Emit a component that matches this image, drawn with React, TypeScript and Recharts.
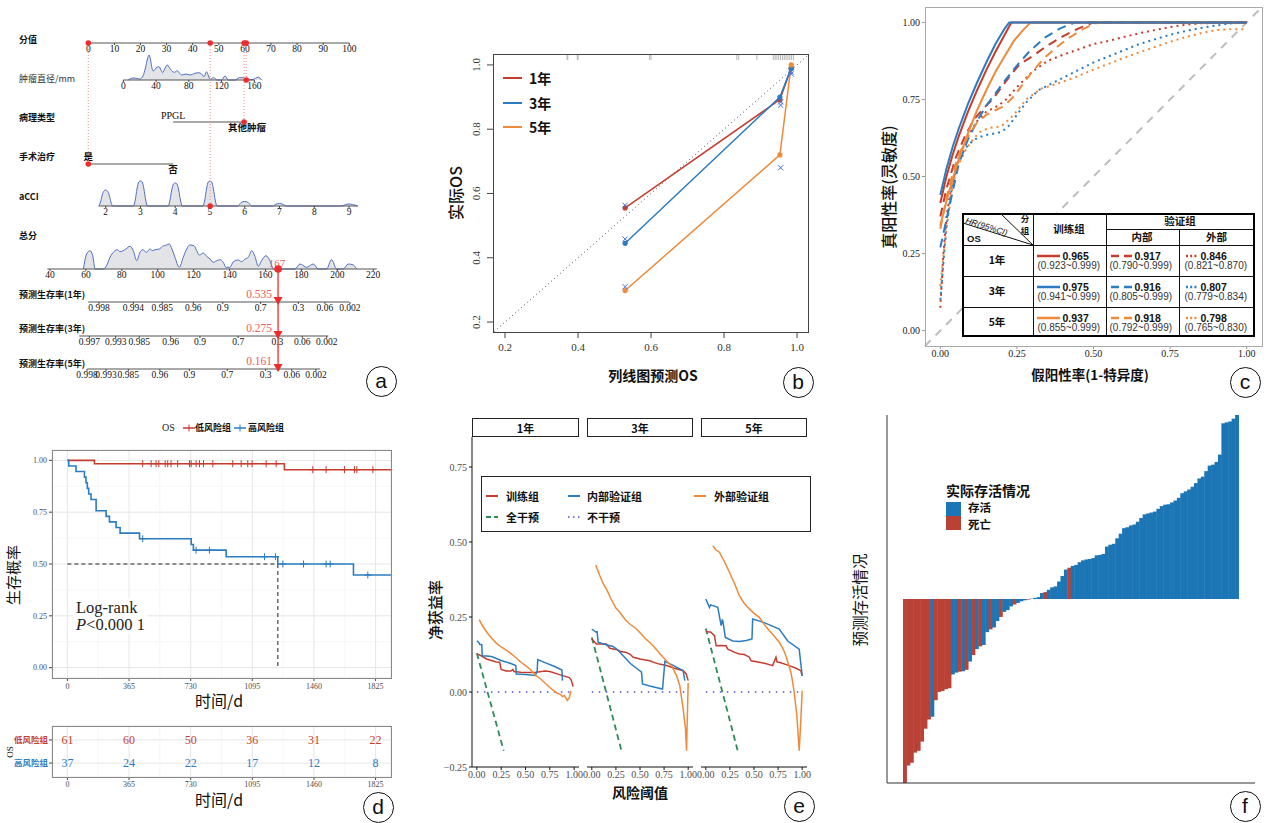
import React from "react";
import {
  Area,
  Bar,
  BarChart,
  CartesianGrid,
  ComposedChart,
  Line,
  Scatter,
  XAxis,
  YAxis,
} from "recharts";

const SERIF = '"Liberation Serif", "DejaVu Serif", serif';
const CJK = '"Noto Sans CJK SC", "Noto Sans", sans-serif';
const SANS = '"Liberation Sans", "Noto Sans CJK SC", sans-serif';

const RED = "#c43d2f";
const BLUE = "#2b7cc0";
const ORANGE = "#ee8a3a";
const GREEN = "#2e8b57";
const PURPLE = "#7d7ad8";
const NOMO_RED = "#ee2c2c";

// ---- a: nomogram ----
const pointTicks = [0, 10, 20, 30, 40, 50, 60, 70, 80, 90, 100];
const diameterTicks = [0, 40, 80, 120, 160];
const acciTicks = [2, 3, 4, 5, 6, 7, 8, 9];
const totalTicks = [40, 60, 80, 100, 120, 140, 160, 180, 200, 220];
// [value, relative density]
const diameterDensity = [
  [6, 0], [9, 1.5], [13, 2], [17, 1.5], [20, 1], [24, 4], [27, 12], [29.5, 21], [31.4, 25],
  [33.5, 19], [35, 12], [36.6, 9], [40, 12], [43.6, 13.3], [46, 10], [48, 7.3], [51, 12],
  [53.7, 15], [56.5, 12], [59, 9.3], [62.3, 7.7], [66, 9.3], [68.5, 7], [71.3, 5], [76.6, 6],
  [81.4, 5], [87.5, 6.7], [91.6, 7.3], [95.7, 6], [98.5, 3.3], [101.8, 8.3], [104, 4],
  [105.9, 0.7], [110, 2.3], [114.8, 0], [120.1, 0], [124.2, 4], [128.2, 0], [136.4, 0],
  [141.6, 2.3], [146.5, 2.3], [150.7, 0], [158.7, 0.7], [164.8, 2.7], [169, 0],
];
const acciDensity = [
  [1.8, 0], [1.85, 4], [1.9, 11], [1.95, 15], [2, 16], [2.05, 15], [2.1, 11], [2.15, 4], [2.2, 0],
  [2.8, 0], [2.85, 6], [2.9, 17], [2.95, 24], [3, 25], [3.05, 24], [3.1, 17], [3.15, 6], [3.2, 0],
  [3.8, 0], [3.85, 6], [3.9, 16], [3.95, 22], [4, 23], [4.05, 22], [4.1, 16], [4.15, 6], [4.2, 0],
  [4.8, 0], [4.85, 6], [4.9, 17], [4.95, 24], [5, 25], [5.05, 24], [5.1, 17], [5.15, 6], [5.2, 0],
  [5.8, 0], [5.85, 1.5], [5.9, 3.5], [6, 4.5], [6.1, 3.5], [6.15, 1.5], [6.2, 0],
  [6.8, 0], [6.9, 1.8], [7, 2.5], [7.1, 1.8], [7.2, 0],
  [8.8, 0], [8.9, 1.5], [9, 2], [9.1, 1.5], [9.25, 0],
];
const totalDensity = [
  [58.6, 0], [60.4, 15], [62.3, 18.3], [63.8, 13.3], [65.1, 0], [69.7, 0], [71.5, 3.3],
  [73.4, 11.7], [75.6, 17.3], [77.5, 19.3], [79, 17.3], [80.8, 18.3], [82.3, 20], [84.5, 22.7],
  [86.4, 18.3], [88.3, 8.3], [90.1, 16.7], [91.6, 19.3], [93.8, 16.7], [95.7, 20], [97.2, 18.3],
  [98.5, 19.3], [100.9, 20], [102.7, 22.7], [104.9, 24], [106.4, 25], [107.9, 20], [109.6, 11.7],
  [112, 1.7], [114.2, 11.7], [116.1, 20], [117.9, 24], [120.2, 23.3], [121.7, 18.3], [123.1, 14],
  [125.4, 16], [127.2, 12.7], [129.1, 10], [130.9, 6.7], [132.8, 8.3], [134.6, 9.3], [136.5, 6.7],
  [138, 1.7], [140.2, 1.7], [142.1, 7.3], [144.9, 9], [146.7, 7.3], [148.6, 10], [150.4, 11.7],
  [152.3, 18.3], [154.1, 12.7], [156, 2.7], [157.8, 8.3], [160.2, 13.3], [162.5, 8.3], [164.3, 0],
  [176.4, 0], [179.2, 5], [182.9, 1.7], [186.6, 5], [189.4, 0], [194, 0], [196.8, 9.3], [199.6, 0],
  [203.3, 0], [206.1, 5], [208.9, 4], [210.7, 0],
];
const pathologyLevels = ["PPGL", "其他肿瘤"];
const pathologyPoints = [32.5, 59.7];
const surgeryLevels = ["是", "否"];
const surgeryPoints = [0, 32.5];
const surv1Labels = ["0.998", "0.994", "0.985", "0.96", "0.9", "0.7", "0.3", "0.06", "0.002"];
const surv1At = [67.3, 86.4, 102.5, 119.8, 136.2, 157.3, 178.3, 193.1, 207.0];
const surv3Labels = ["0.997", "0.993", "0.985", "0.96", "0.9", "0.7", "0.3", "0.06", "0.002"];
const surv3At = [61.9, 76.6, 89.7, 107.2, 123.5, 144.8, 166.6, 180.5, 194.1];
const surv5Labels = ["0.998", "0.993", "0.985", "0.96", "0.9", "0.7", "0.3", "0.06", "0.002"];
const surv5At = [60.6, 71.2, 83.6, 101.2, 117.6, 138.7, 160.1, 174.6, 188.1];
const patientPoints = [60.5, 59.7, 0, 46.7]; // diameter, pathology, surgery, aCCI
const patientTotal = 167;
const patientSurvival = ["0.535", "0.275", "0.161"];

// ---- b: calibration ----
const calTicks = [0.2, 0.4, 0.6, 0.8, 1.0];
const calPredicted = [0.529, 0.953, 0.984];
const cal1Year = [0.555, 0.892, 0.99];
const cal3Year = [0.445, 0.9, 0.99];
const cal5Year = [0.298, 0.72, 1.0];
const calCorrected = [
  [0.529, 0.563], [0.529, 0.458], [0.529, 0.31], [0.955, 0.885], [0.955, 0.875],
  [0.955, 0.68], [0.984, 0.978], [0.984, 0.972],
];
const calRug = [0.37, 0.372, 0.398, 0.4, 0.596, 0.6, 0.835, 0.84, 0.89, 0.935, 0.94, 0.945,
  0.95, 0.955, 0.96, 0.965, 0.97, 0.975, 0.98, 0.985, 0.99];

// ---- c: ROC ----
const rateTicks = [0, 0.25, 0.5, 0.75, 1];
const rocTrain1 = [[0, 0.414], [0.02, 0.5], [0.04, 0.57], [0.06, 0.63], [0.09, 0.71], [0.12, 0.78], [0.15, 0.845], [0.18, 0.905], [0.21, 0.96], [0.232, 1], [1, 1]];
const rocTrain3 = [[0, 0.44], [0.02, 0.525], [0.04, 0.595], [0.06, 0.655], [0.09, 0.735], [0.12, 0.805], [0.15, 0.87], [0.18, 0.93], [0.21, 0.98], [0.225, 1], [1, 1]];
const rocTrain5 = [[0, 0.34], [0.02, 0.42], [0.04, 0.49], [0.06, 0.555], [0.09, 0.64], [0.12, 0.715], [0.15, 0.78], [0.18, 0.84], [0.21, 0.89], [0.24, 0.94], [0.27, 0.975], [0.295, 1], [1, 1]];
const rocInternal1 = [[0, 0.37], [0.02, 0.46], [0.05, 0.56], [0.08, 0.63], [0.11, 0.685], [0.14, 0.72], [0.17, 0.75], [0.2, 0.79], [0.23, 0.83], [0.26, 0.865], [0.3, 0.89], [0.35, 0.925], [0.4, 0.955], [0.45, 0.98], [0.5, 1], [1, 1]];
const rocInternal3 = [[0, 0.27], [0.02, 0.36], [0.04, 0.45], [0.06, 0.54], [0.09, 0.62], [0.12, 0.68], [0.15, 0.73], [0.18, 0.77], [0.21, 0.81], [0.25, 0.86], [0.29, 0.905], [0.34, 0.95], [0.39, 0.98], [0.44, 1], [1, 1]];
const rocInternal5 = [[0, 0.33], [0.02, 0.43], [0.04, 0.51], [0.06, 0.57], [0.09, 0.63], [0.12, 0.675], [0.15, 0.7], [0.18, 0.715], [0.21, 0.73], [0.24, 0.76], [0.27, 0.8], [0.3, 0.84], [0.34, 0.885], [0.38, 0.92], [0.42, 0.95], [0.46, 0.975], [0.5, 0.995], [0.52, 1], [1, 1]];
const rocExternal1 = [[0, 0.074], [0.01, 0.25], [0.02, 0.37], [0.035, 0.46], [0.06, 0.56], [0.09, 0.63], [0.12, 0.68], [0.15, 0.71], [0.18, 0.725], [0.21, 0.745], [0.25, 0.79], [0.3, 0.84], [0.35, 0.875], [0.4, 0.895], [0.45, 0.912], [0.5, 0.93], [0.55, 0.94], [0.6, 0.953], [0.65, 0.965], [0.7, 0.975], [0.75, 0.985], [0.8, 0.992], [0.85, 0.997], [1, 1]];
const rocExternal3 = [[0, 0.1], [0.01, 0.22], [0.02, 0.34], [0.04, 0.48], [0.06, 0.55], [0.08, 0.59], [0.1, 0.61], [0.12, 0.625], [0.15, 0.635], [0.18, 0.64], [0.2, 0.645], [0.22, 0.66], [0.25, 0.7], [0.28, 0.74], [0.32, 0.78], [0.36, 0.8], [0.4, 0.82], [0.45, 0.845], [0.5, 0.87], [0.55, 0.89], [0.6, 0.91], [0.65, 0.93], [0.7, 0.945], [0.75, 0.96], [0.8, 0.972], [0.85, 0.982], [0.9, 0.99], [0.95, 0.997], [1, 1]];
const rocExternal5 = [[0, 0.144], [0.01, 0.24], [0.02, 0.33], [0.04, 0.47], [0.06, 0.54], [0.085, 0.59], [0.11, 0.625], [0.13, 0.645], [0.16, 0.658], [0.2, 0.663], [0.24, 0.7], [0.28, 0.75], [0.33, 0.785], [0.39, 0.804], [0.45, 0.826], [0.5, 0.847], [0.55, 0.866], [0.6, 0.885], [0.65, 0.903], [0.7, 0.92], [0.75, 0.937], [0.8, 0.952], [0.85, 0.965], [0.9, 0.975], [0.95, 0.978], [1, 0.978]];
const aucTrain = ["0.965", "0.975", "0.937"];
const ciTrain = ["(0.923~0.999)", "(0.941~0.999)", "(0.855~0.999)"];
const aucInternal = ["0.917", "0.916", "0.918"];
const ciInternal = ["(0.790~0.999)", "(0.805~0.999)", "(0.792~0.999)"];
const aucExternal = ["0.846", "0.807", "0.798"];
const ciExternal = ["(0.821~0.870)", "(0.779~0.834)", "(0.765~0.830)"];
const yearLabels = ["1年", "3年", "5年"];

// ---- d: Kaplan-Meier ----
const dayTicks = [0, 365, 730, 1095, 1460, 1825];
const kmLowTimes = [0, 160, 1285, 1916];
const kmLowSurv = [1, 0.984, 0.955, 0.955];
const kmHighTimes = [0, 8, 51, 101, 110, 118, 126, 140, 170, 229, 249, 288, 312, 427, 733, 746, 940, 1246, 1694, 1916];
const kmHighSurv = [1, 0.973, 0.946, 0.919, 0.892, 0.865, 0.838, 0.811, 0.757, 0.73, 0.703, 0.676, 0.649, 0.622, 0.594, 0.567, 0.535, 0.5, 0.447, 0.447];
const censorLowTimes = [446, 496, 525, 541, 579, 594, 614, 653, 723, 733, 762, 782, 806, 861, 979, 1029, 1068, 1094, 1177, 1236, 1453, 1532, 1641, 1700, 1714, 1809];
const censorLowSurv = [0.984, 0.984, 0.984, 0.984, 0.984, 0.984, 0.984, 0.984, 0.984, 0.984, 0.984, 0.984, 0.984, 0.984, 0.984, 0.984, 0.984, 0.984, 0.984, 0.984, 0.955, 0.955, 0.955, 0.955, 0.955, 0.955];
const censorHighTimes = [446, 762, 841, 1167, 1232, 1276, 1398, 1532, 1556, 1779];
const censorHighSurv = [0.622, 0.567, 0.567, 0.535, 0.535, 0.5, 0.5, 0.5, 0.5, 0.447];
const medianTime = 1246;
const riskTimes = [0, 365, 730, 1095, 1460, 1825];
const riskLow = [61, 60, 50, 36, 31, 22];
const riskHigh = [37, 24, 22, 17, 12, 8];

// ---- e: decision curves ----
const thresholdTicks = [0, 0.25, 0.5, 0.75, 1];
const benefitTicks = [-0.25, 0, 0.25, 0.5, 0.75];
const dcaNone = [[0, 0], [1, 0]];
const dca1Train = [[0, 0.127], [0.05, 0.12], [0.1, 0.11], [0.15, 0.105], [0.2, 0.1], [0.235, 0.099], [0.25, 0.075], [0.3, 0.07], [0.35, 0.07], [0.37, 0.075], [0.38, 0.068], [0.45, 0.066], [0.55, 0.065], [0.61, 0.066], [0.7, 0.07], [0.75, 0.068], [0.85, 0.058], [0.95, 0.048], [0.97, 0.04], [0.99, 0.018]];
const dca1Internal = [[0, 0.171], [0.02, 0.165], [0.03, 0.158], [0.05, 0.158], [0.055, 0.121], [0.1, 0.12], [0.15, 0.118], [0.17, 0.116], [0.25, 0.105], [0.35, 0.095], [0.4, 0.088], [0.405, 0.06], [0.5, 0.058], [0.6, 0.055], [0.62, 0.07], [0.626, 0.108], [0.7, 0.098], [0.8, 0.085], [0.874, 0.073], [0.88, 0.038]];
const dca1External = [[0.024, 0.241], [0.05, 0.225], [0.1, 0.2], [0.15, 0.18], [0.2, 0.163], [0.25, 0.15], [0.3, 0.14], [0.35, 0.128], [0.4, 0.115], [0.45, 0.1], [0.5, 0.088], [0.55, 0.075], [0.6, 0.056], [0.65, 0.045], [0.7, 0.03], [0.75, 0.015], [0.8, 0.002], [0.83, -0.005], [0.86, -0.008], [0.88, -0.015], [0.9, -0.012], [0.93, -0.028], [0.95, -0.02], [0.966, 0.004]];
const dca1All = [[0, 0.129], [0.276, -0.196]];
const dca3Train = [[0, 0.177], [0.048, 0.16], [0.1, 0.16], [0.15, 0.16], [0.187, 0.146], [0.25, 0.142], [0.3, 0.135], [0.36, 0.132], [0.4, 0.125], [0.43, 0.116], [0.5, 0.11], [0.6, 0.104], [0.65, 0.098], [0.7, 0.093], [0.775, 0.088], [0.85, 0.08], [0.948, 0.071], [0.98, 0.06], [1.0, 0.038]];
const dca3Internal = [[0, 0.21], [0.02, 0.205], [0.04, 0.2], [0.055, 0.201], [0.066, 0.166], [0.12, 0.16], [0.22, 0.152], [0.27, 0.14], [0.325, 0.121], [0.4, 0.095], [0.46, 0.08], [0.516, 0.066], [0.526, 0.027], [0.6, 0.02], [0.734, 0.01], [0.758, 0.102], [0.85, 0.088], [0.948, 0.071], [0.965, 0.038]];
const dca3External = [[0.04, 0.423], [0.08, 0.39], [0.12, 0.36], [0.152, 0.343], [0.2, 0.31], [0.25, 0.28], [0.29, 0.266], [0.35, 0.24], [0.4, 0.225], [0.464, 0.21], [0.55, 0.18], [0.637, 0.154], [0.7, 0.13], [0.74, 0.116], [0.8, 0.095], [0.827, 0.088], [0.88, 0.054], [0.913, 0.021], [0.948, -0.057], [0.972, -0.123], [0.983, -0.196], [0.99, -0.1], [1.0, 0.03]];
const dca3All = [[0, 0.182], [0.308, -0.196]];
const dca5Train = [[0, 0.201], [0.05, 0.2], [0.09, 0.188], [0.107, 0.154], [0.15, 0.155], [0.21, 0.154], [0.228, 0.143], [0.3, 0.132], [0.348, 0.127], [0.4, 0.125], [0.452, 0.116], [0.469, 0.104], [0.555, 0.099], [0.62, 0.095], [0.693, 0.088], [0.728, 0.116], [0.74, 0.1], [0.762, 0.099], [0.866, 0.088], [0.93, 0.08], [0.986, 0.071], [1.0, 0.054]];
const dca5Internal = [[0, 0.31], [0.038, 0.282], [0.05, 0.29], [0.072, 0.288], [0.124, 0.282], [0.159, 0.221], [0.17, 0.24], [0.176, 0.238], [0.203, 0.182], [0.28, 0.17], [0.348, 0.168], [0.42, 0.172], [0.479, 0.177], [0.486, 0.243], [0.6, 0.232], [0.762, 0.21], [0.85, 0.17], [0.969, 0.143], [1.0, 0.054]];
const dca5External = [[0.072, 0.488], [0.1, 0.475], [0.141, 0.466], [0.2, 0.43], [0.245, 0.399], [0.3, 0.36], [0.348, 0.321], [0.4, 0.295], [0.452, 0.277], [0.5, 0.262], [0.555, 0.249], [0.6, 0.228], [0.659, 0.204], [0.7, 0.19], [0.762, 0.166], [0.8, 0.145], [0.831, 0.121], [0.86, 0.09], [0.883, 0.066], [0.9, 0.035], [0.917, -0.001], [0.945, -0.079], [0.969, -0.196], [0.985, -0.1], [1.0, 0.004]];
const dca5All = [[0, 0.212], [0.331, -0.196]];

// ---- f: waterfall of predicted score, 98 patients ----
const waterfallScores = [
  -2.0, -1.81, -1.78, -1.67, -1.65, -1.55, -1.41, -1.31, -1.28, -1.1,
  -1.01, -1.0, -0.98, -0.97, -0.82, -0.8, -0.79, -0.785, -0.77, -0.68,
  -0.61, -0.545, -0.515, -0.5, -0.36, -0.33, -0.31, -0.24, -0.195, -0.14,
  -0.12, -0.08, -0.06, -0.043, -0.025, -0.014, -0.007, 0.004, 0.011, 0.02,
  0.065, 0.075, 0.1, 0.127, 0.137, 0.19, 0.25, 0.32, 0.34, 0.36,
  0.37, 0.4, 0.42, 0.43, 0.435, 0.445, 0.475, 0.48, 0.49, 0.57,
  0.59, 0.6, 0.66, 0.71, 0.77, 0.78, 0.8, 0.81, 0.84, 0.88,
  0.92, 0.93, 0.94, 0.95, 0.98, 1.01, 1.025, 1.03, 1.05, 1.07,
  1.1, 1.15, 1.17, 1.19, 1.22, 1.26, 1.31, 1.33, 1.39, 1.45,
  1.46, 1.49, 1.57, 1.91, 1.92, 1.93, 1.96, 2.0,
];
const waterfallDead = [
  1, 1, 1, 1, 1, 1, 1, 1, 0, 1,
  1, 1, 1, 1, 0, 0, 1, 0, 1, 0,
  1, 0, 1, 0, 0, 1, 0, 0, 1, 0,
  0, 0, 1, 0, 0, 0, 1, 0, 0, 0,
  0, 1, 0, 0, 0, 0, 0, 0, 1, 0,
  0, 0, 0, 0, 0, 0, 0, 0, 0, 0,
  0, 0, 0, 0, 0, 0, 0, 0, 0, 0,
  0, 0, 0, 0, 0, 0, 0, 0, 0, 0,
  0, 0, 0, 0, 0, 0, 0, 0, 0, 0,
  0, 0, 0, 0, 0, 0, 0, 0,
];

const xy = (rows: number[][]) => rows.map(([x, y]) => ({ x, y }));
const pairs = (xs: number[], ys: number[]) => xs.map((x, i) => ({ x, y: ys[i] }));

function Txt({ x, y, children, size = 12, weight = 400, color = "#111", family = CJK, anchor = "start", rotate = 0, italic = false }: any) {
  const tx = anchor === "middle" ? "-50%" : anchor === "end" ? "-100%" : "0";
  return (
    <div
      style={{
        position: "absolute",
        left: x,
        top: y,
        transform: `translate(${tx},-50%)${rotate ? ` rotate(${rotate}deg)` : ""}`,
        fontSize: size,
        fontWeight: weight,
        fontStyle: italic ? "italic" : "normal",
        color,
        fontFamily: family,
        whiteSpace: "nowrap",
        lineHeight: 1.15,
      }}
    >
      {children}
    </div>
  );
}

function Tag({ x, y, letter }: any) {
  return (
    <div
      style={{
        position: "absolute", left: x - 15.5, top: y - 15.5, width: 31, height: 31,
        border: "1.5px solid #111", borderRadius: "50%", boxSizing: "border-box",
        display: "flex", alignItems: "center", justifyContent: "center",
        fontFamily: SANS, fontSize: 21, lineHeight: 1, color: "#111", paddingBottom: 2,
      }}
    >
      {letter}
    </div>
  );
}

function Swatch({ x, y, w, color, dash, width = 2, plus = false }: any) {
  return (
    <svg style={{ position: "absolute", left: x, top: y - 5, overflow: "visible" }} width={w} height={10}>
      <line x1={0} x2={w} y1={5} y2={5} stroke={color} strokeWidth={width} strokeDasharray={dash} />
      {plus ? <path d={`M${w / 2},1.5v7`} stroke={color} strokeWidth={1} /> : null}
    </svg>
  );
}

function Box({ x, y, w, h, color = "#888", width = 1 }: any) {
  return (
    <div style={{ position: "absolute", left: x, top: y, width: w, height: h, border: `${width}px solid ${color}`, boxSizing: "border-box", pointerEvents: "none" }} />
  );
}

// ---------------- panel a ----------------
const PTS_DOMAIN = [-33.83, 119.43];
const DIAM_DOMAIN = [-150.6, 337.9];
const ACCI_DOMAIN = [-1.041, 10.467];
const TOT_DOMAIN = [12.16, 234.9];
const ROW_Y = { points: 43, diameter: 80, pathology: 122, surgery: 164, acci: 206, total: 269, s1: 302, s3: 336, s5: 369 };

function NomoRow({ axisY, plotH, domain, ticks, tickText, span, density, levels, levelStyle }: any) {
  const h = plotH + 14;
  return (
    <div style={{ position: "absolute", left: 0, top: axisY - plotH }}>
      <ComposedChart width={400} height={h} margin={{ top: 0, right: 0, bottom: 0, left: 0 }}>
        <XAxis
          type="number" dataKey="x" domain={domain} ticks={ticks} interval={0} height={14}
          axisLine={false} tickSize={2} tickMargin={0}
          tickLine={ticks ? { stroke: "#444" } : false}
          tick={ticks ? { fontFamily: SERIF, fontSize: 9.5, fill: "#111" } : false}
          tickFormatter={(v: number, i: number) => (tickText ? tickText[i] : String(v))}
        />
        <YAxis type="number" dataKey="y" domain={[0, plotH]} hide />
        {density ? (
          <Area data={xy(density)} dataKey="y" type="monotone" stroke="#4f6fc2" strokeWidth={1}
            fill="#e3e4e7" fillOpacity={1} dot={false} activeDot={false} isAnimationActive={false} />
        ) : null}
        <Line data={xy([[span[0], 0], [span[1], 0]])} dataKey="y" stroke="#555" strokeWidth={1.2}
          dot={false} activeDot={false} isAnimationActive={false} />
        {levels ? (
          <Scatter
            data={levels}
            isAnimationActive={false}
            shape={(p: any) => {
              const s = levelStyle[p.payload.i];
              return (
                <text x={p.cx + s.dx} y={p.cy + s.dy} textAnchor="middle" fontFamily={s.family}
                  fontSize={s.size} fontWeight={s.weight} fill="#111">
                  {p.payload.label}
                </text>
              );
            }}
          />
        ) : null}
      </ComposedChart>
    </div>
  );
}

function NomoOverlay() {
  const rows = [ROW_Y.diameter, ROW_Y.pathology, ROW_Y.surgery, ROW_Y.acci];
  const dots = [
    ...patientPoints.map((v) => ({ x: v, y: ROW_Y.points })),
    ...patientPoints.map((v, i) => ({ x: v, y: rows[i] })),
  ];
  const survRows = [ROW_Y.s1, ROW_Y.s3, ROW_Y.s5];
  const arrows = patientSurvival.map((label, i) => ({ x: patientTotal, y: survRows[i], label }));
  return (
    <div style={{ position: "absolute", left: 0, top: 0 }}>
      <ComposedChart width={400} height={400} margin={{ top: 0, right: 0, bottom: 0, left: 0 }}>
        <XAxis xAxisId="pts" type="number" dataKey="x" domain={PTS_DOMAIN} hide />
        <XAxis xAxisId="tot" type="number" dataKey="x" domain={TOT_DOMAIN} hide />
        <YAxis type="number" dataKey="y" domain={[0, 400]} reversed hide />
        {patientPoints.map((v, i) => (
          <Line key={i} xAxisId="pts" data={[{ x: v, y: ROW_Y.points }, { x: v, y: rows[i] }]} dataKey="y"
            stroke="#f38b8b" strokeWidth={1} strokeDasharray="1 2" dot={false} activeDot={false} isAnimationActive={false} />
        ))}
        <Line xAxisId="tot" data={[{ x: patientTotal, y: ROW_Y.total }, { x: patientTotal, y: ROW_Y.s5 + 2 }]} dataKey="y"
          stroke={NOMO_RED} strokeWidth={1.3} dot={false} activeDot={false} isAnimationActive={false} />
        <Scatter xAxisId="pts" data={dots} isAnimationActive={false}
          shape={(p: any) => <circle cx={p.cx} cy={p.cy} r={2.8} fill={NOMO_RED} />} />
        <Scatter xAxisId="tot" data={[{ x: patientTotal, y: ROW_Y.total }]} isAnimationActive={false}
          shape={(p: any) => (
            <g>
              <text x={p.cx - 1} y={p.cy - 2} textAnchor="middle" fontFamily={SERIF} fontSize={11} fill="#f05a5a">{patientTotal}</text>
              <circle cx={p.cx} cy={p.cy} r={3.8} fill={NOMO_RED} />
            </g>
          )} />
        <Scatter xAxisId="tot" data={arrows} isAnimationActive={false}
          shape={(p: any) => (
            <g>
              <path d={`M${p.cx - 4.5},${p.cy - 5}L${p.cx + 4.5},${p.cy - 5}L${p.cx},${p.cy + 3}Z`} fill={NOMO_RED} />
              <text x={p.cx - 6} y={p.cy - 4} textAnchor="end" fontFamily={SERIF} fontSize={11.5} fill="#f05a5a">{p.payload.label}</text>
            </g>
          )} />
      </ComposedChart>
    </div>
  );
}

function PanelA() {
  const labels: [string, number, number][] = [
    ["分值", 40, 700], ["肿瘤直径/mm", 79, 400], ["病理类型", 118, 700], ["手术治疗", 157, 700],
    ["aCCI", 197, 700], ["总分", 236, 700], ["预测生存率(1年)", 295, 700],
    ["预测生存率(3年)", 329, 700], ["预测生存率(5年)", 364, 700],
  ];
  const pathology = pathologyLevels.map((label, i) => ({ x: pathologyPoints[i], y: 0, label, i }));
  const surgery = surgeryLevels.map((label, i) => ({ x: surgeryPoints[i], y: 0, label, i }));
  return (
    <>
      {labels.map(([t, y, w]) => (
        <Txt key={t} x={19} y={y} size={9} weight={w} color={w === 700 ? "#111" : "#333"}>{t}</Txt>
      ))}
      <NomoRow axisY={ROW_Y.points} plotH={6} domain={PTS_DOMAIN} ticks={pointTicks} span={[0, 100]} />
      <NomoRow axisY={ROW_Y.diameter} plotH={28} domain={DIAM_DOMAIN} ticks={diameterTicks} span={[0, 160]} density={diameterDensity} />
      <NomoRow axisY={ROW_Y.pathology} plotH={6} domain={PTS_DOMAIN} span={pathologyPoints} levels={pathology}
        levelStyle={[
          { dx: 0, dy: -3, family: SERIF, size: 10, weight: 400 },
          { dx: 3, dy: 9, family: CJK, size: 9.5, weight: 700 },
        ]} />
      <NomoRow axisY={ROW_Y.surgery} plotH={6} domain={PTS_DOMAIN} span={surgeryPoints} levels={surgery}
        levelStyle={[
          { dx: 0, dy: -4, family: CJK, size: 9.5, weight: 700 },
          { dx: 0, dy: 9, family: CJK, size: 9.5, weight: 700 },
        ]} />
      <NomoRow axisY={ROW_Y.acci} plotH={28} domain={ACCI_DOMAIN} ticks={acciTicks} span={[1.8, 9.25]} density={acciDensity} />
      <NomoRow axisY={ROW_Y.total} plotH={28} domain={TOT_DOMAIN} ticks={totalTicks} span={[38.5, 222]} density={totalDensity} />
      <NomoRow axisY={ROW_Y.s1} plotH={6} domain={TOT_DOMAIN} ticks={surv1At} tickText={surv1Labels} span={[61.3, 206.6]} />
      <NomoRow axisY={ROW_Y.s3} plotH={6} domain={TOT_DOMAIN} ticks={surv3At} tickText={surv3Labels} span={[56.3, 195.0]} />
      <NomoRow axisY={ROW_Y.s5} plotH={6} domain={TOT_DOMAIN} ticks={surv5At} tickText={surv5Labels} span={[60.8, 190.4]} />
      <NomoOverlay />
      <Tag x={381} y={381} letter="a" />
    </>
  );
}

// ---------------- panel b ----------------
const RotTick = (p: any) => (
  <text x={p.x - 3} y={p.y} transform={`rotate(-90 ${p.x - 3} ${p.y})`} textAnchor="middle"
    fontFamily={SERIF} fontSize={11} fill="#333">
    {Number(p.payload.value).toFixed(1)}
  </text>
);

function PanelB() {
  const series: [number[], string][] = [[cal1Year, RED], [cal3Year, BLUE], [cal5Year, ORANGE]];
  return (
    <>
      <div style={{ position: "absolute", left: 420, top: 40 }}>
        <ComposedChart width={400} height={360} margin={{ top: 14, right: 12, bottom: 38, left: 33 }}>
          <XAxis type="number" dataKey="x" domain={[0.167, 1.03]} ticks={calTicks} interval={0}
            tickFormatter={(v: number) => v.toFixed(1)} height={30} axisLine={false}
            tickLine={{ stroke: "#444" }} tickSize={6} tickMargin={5}
            tick={{ fontFamily: SERIF, fontSize: 11, fill: "#333" }} />
          <YAxis type="number" dataKey="y" domain={[0.169, 1.034]} ticks={calTicks} interval={0}
            width={40} axisLine={false} tickLine={{ stroke: "#444" }} tickSize={6} tickMargin={4} tick={<RotTick />} />
          <Line data={xy([[0.17, 0.17], [1.03, 1.03]])} dataKey="y" stroke="#555" strokeWidth={1}
            strokeDasharray="1 3" dot={false} activeDot={false} isAnimationActive={false} />
          <Scatter data={calRug.map((x) => ({ x, y: 1.034 }))} isAnimationActive={false}
            shape={(p: any) => <line x1={p.cx} x2={p.cx} y1={p.cy} y2={p.cy + 6} stroke="#b5b5b5" strokeWidth={1} />} />
          {series.map(([ys, c], i) => (
            <Line key={i} data={pairs(calPredicted, ys)} dataKey="y" stroke={c} strokeWidth={1.5}
              dot={{ r: 2.6, fill: c, stroke: c, strokeWidth: 0 }} activeDot={false} isAnimationActive={false} />
          ))}
          <Scatter data={xy(calCorrected)} isAnimationActive={false}
            shape={(p: any) => (
              <path d={`M${p.cx - 2.6},${p.cy - 2.6}L${p.cx + 2.6},${p.cy + 2.6}M${p.cx - 2.6},${p.cy + 2.6}L${p.cx + 2.6},${p.cy - 2.6}`}
                stroke="#4070d0" strokeWidth={1} />
            )} />
        </ComposedChart>
      </div>
      <Box x={493} y={54} w={316} h={279} color="#444" />
      {yearLabels.map((t, i) => (
        <React.Fragment key={t}>
          <Swatch x={503} y={78 + i * 24.5} w={19} color={[RED, BLUE, ORANGE][i]} width={2} />
          <Txt x={529} y={78 + i * 24.5} size={14} weight={700}>{t}</Txt>
        </React.Fragment>
      ))}
      <Txt x={455} y={193} size={16} weight={500} anchor="middle" rotate={-90}>实际OS</Txt>
      <Txt x={653} y={375} size={14} weight={700} anchor="middle">列线图预测OS</Txt>
      <Tag x={798} y={382} letter="b" />
    </>
  );
}

// ---------------- panel c ----------------
function RocTable() {
  const colors = [RED, BLUE, ORANGE];
  const rowTop = [32, 63, 94];
  const groups: [string[], string[], number, number, number, string | undefined][] = [
    [aucTrain, ciTrain, 75, 23, 80, undefined],
    [aucInternal, ciInternal, 149, 21, 152, "8 5"],
    [aucExternal, ciExternal, 224, 12, 227, "2 2.2"],
  ];
  const line = (x: number, y: number, w: number, h: number) => (
    <div style={{ position: "absolute", left: x, top: y, width: w, height: h, background: "#111" }} />
  );
  return (
    <div style={{ position: "absolute", left: 962, top: 213, width: 293, height: 124, background: "#fff", border: "2.5px solid #000", boxSizing: "border-box" }}>
      <div style={{ position: "absolute", left: -2.5, top: -2.5, width: 293, height: 124 }}>
        {line(71, 0, 1, 124)}
        {line(144, 0, 1, 124)}
        {line(217, 16, 1, 108)}
        {line(144, 16, 149, 1)}
        {line(0, 32, 293, 1)}
        {line(0, 63, 293, 1)}
        {line(0, 94, 293, 1)}
        <svg style={{ position: "absolute", left: 0, top: 0 }} width={71} height={32}>
          <line x1={1} y1={10} x2={71} y2={32} stroke="#111" strokeWidth={1} />
          <line x1={38} y1={0} x2={71} y2={32} stroke="#111" strokeWidth={1} />
          <text x={3} y={10} transform="rotate(17 3 10)" fontFamily={SANS} fontStyle="italic" fontSize={8.5} fill="#111">HR(95%CI)</text>
          <text x={63} y={9} textAnchor="middle" fontFamily={CJK} fontWeight={700} fontSize={8.5} fill="#111">分</text>
          <text x={63} y={20.5} textAnchor="middle" fontFamily={CJK} fontWeight={700} fontSize={8.5} fill="#111">组</text>
          <text x={5} y={29} fontFamily={SANS} fontWeight={700} fontSize={9.5} fill="#111">OS</text>
        </svg>
        <Txt x={107.5} y={16} size={10.5} weight={700} anchor="middle">训练组</Txt>
        <Txt x={218.5} y={8.5} size={10.5} weight={700} anchor="middle">验证组</Txt>
        <Txt x={180.5} y={24.5} size={10.5} weight={700} anchor="middle">内部</Txt>
        <Txt x={255} y={24.5} size={10.5} weight={700} anchor="middle">外部</Txt>
        {yearLabels.map((t, r) => (
          <Txt key={t} x={35.5} y={rowTop[r] + 15.5} size={10.5} weight={700} anchor="middle">{t}</Txt>
        ))}
        {groups.map(([aucs, cis, lx, lw, cx, dash], g) =>
          aucs.map((v, r) => (
            <React.Fragment key={`${g}-${r}`}>
              <Swatch x={lx} y={rowTop[r] + 11} w={lw} color={colors[r]} dash={dash} width={2.5} />
              <Txt x={lx + lw + 3} y={rowTop[r] + 11} size={10.5} weight={700} family={SANS}>{v}</Txt>
              <Txt x={cx - 4} y={rowTop[r] + 21.5} size={10} family={SANS} color="#333">{cis[r]}</Txt>
            </React.Fragment>
          )),
        )}
      </div>
    </div>
  );
}

function PanelC() {
  const curves: [number[][], string, string | undefined][] = [
    [rocExternal1, RED, "2 4"], [rocExternal3, BLUE, "2 4"], [rocExternal5, ORANGE, "2 4"],
    [rocInternal1, RED, "9 6"], [rocInternal3, BLUE, "9 6"], [rocInternal5, ORANGE, "9 6"],
    [rocTrain5, ORANGE, undefined], [rocTrain1, RED, undefined], [rocTrain3, BLUE, undefined],
  ];
  return (
    <>
      <div style={{ position: "absolute", left: 860, top: 0 }}>
        <ComposedChart width={411} height={400} margin={{ top: 7, right: 9, bottom: 29, left: 25 }}>
          <XAxis type="number" dataKey="x" domain={[-0.05, 1.05]} ticks={rateTicks} interval={0}
            tickFormatter={(v: number) => v.toFixed(2)} height={25} axisLine={false}
            tickLine={{ stroke: "#999" }} tickSize={3} tickMargin={1}
            tick={{ fontFamily: SERIF, fontSize: 10, fill: "#222" }} />
          <YAxis type="number" dataKey="y" domain={[-0.05, 1.05]} ticks={rateTicks} interval={0}
            tickFormatter={(v: number) => v.toFixed(2)} width={40} axisLine={false}
            tickLine={{ stroke: "#999" }} tickSize={3} tickMargin={2}
            tick={{ fontFamily: SERIF, fontSize: 10, fill: "#222" }} />
          <Line data={xy([[-0.05, -0.05], [1.05, 1.05]])} dataKey="y" stroke="#bdbdbd" strokeWidth={2}
            strokeDasharray="8 7" dot={false} activeDot={false} isAnimationActive={false} />
          {curves.map(([d, c, dash], i) => (
            <Line key={i} data={xy(d)} dataKey="y" stroke={c} strokeWidth={2} strokeDasharray={dash}
              dot={false} activeDot={false} isAnimationActive={false} />
          ))}
        </ComposedChart>
      </div>
      <Box x={925} y={7} w={338} h={340} color="#aaa" />
      <RocTable />
      <Txt x={888} y={187} size={16} weight={500} anchor="middle" rotate={-90}>真阳性率(灵敏度)</Txt>
      <Txt x={1090} y={375} size={13.5} weight={700} anchor="middle">假阳性率(1-特异度)</Txt>
      <Tag x={1245} y={382} letter="c" />
    </>
  );
}

// ---------------- panel d ----------------
const plusShape = (color: string) => (p: any) => (
  <path d={`M${p.cx - 3.5},${p.cy}h7M${p.cx},${p.cy - 3.5}v7`} stroke={color} strokeWidth={1} />
);

function PanelD() {
  const minorX = [182.5, 547.5, 912.5, 1277.5, 1642.5];
  const minorY = [0.125, 0.375, 0.625, 0.875];
  const tickStyle = { fontFamily: SERIF, fontSize: 8, fill: "#4d4d4d" };
  const low = riskTimes.map((t, i) => ({ x: t, y: 2, n: riskLow[i] }));
  const high = riskTimes.map((t, i) => ({ x: t, y: 1, n: riskHigh[i] }));
  const numShape = (color: string) => (p: any) => (
    <text x={p.cx} y={p.cy} dy="0.35em" textAnchor="middle" fontFamily={SERIF} fontSize={12} fill={color}>{p.payload.n}</text>
  );
  return (
    <>
      <Txt x={162} y={428} size={10} family={SERIF} color="#222">OS</Txt>
      <Swatch x={183} y={428} w={12} color={RED} width={1.5} plus />
      <Txt x={195} y={428} size={9} weight={700}>低风险组</Txt>
      <Swatch x={234} y={428} w={12} color={BLUE} width={1.5} plus />
      <Txt x={248} y={428} size={9} weight={700}>高风险组</Txt>
      <div style={{ position: "absolute", left: 0, top: 440 }}>
        <ComposedChart width={400} height={260} margin={{ top: 10, right: 9, bottom: 2, left: 12 }}>
          <CartesianGrid stroke="#f3f3f3" strokeWidth={0.7} verticalValues={minorX} horizontalValues={minorY} />
          <CartesianGrid stroke="#e6e6e6" strokeWidth={1} />
          <XAxis type="number" dataKey="x" domain={[-91.25, 1916.25]} ticks={dayTicks} interval={0} height={20}
            axisLine={false} tickLine={{ stroke: "#444" }} tickSize={3} tickMargin={2} tick={tickStyle} />
          <YAxis type="number" dataKey="y" domain={[-0.05, 1.05]} ticks={[0, 0.25, 0.5, 0.75, 1]} interval={0}
            tickFormatter={(v: number) => v.toFixed(2)} width={40} axisLine={false}
            tickLine={{ stroke: "#444" }} tickSize={3} tickMargin={2} tick={tickStyle} />
          <Line data={[{ x: 0, y: 0.5 }, { x: medianTime, y: 0.5 }]} dataKey="y" stroke="#222" strokeWidth={1.1}
            strokeDasharray="4 3" dot={false} activeDot={false} isAnimationActive={false} />
          <Line data={[{ x: medianTime, y: 0.5 }, { x: medianTime, y: 0 }]} dataKey="y" stroke="#555" strokeWidth={1.3}
            strokeDasharray="4 3" dot={false} activeDot={false} isAnimationActive={false} />
          <Line data={pairs(kmLowTimes, kmLowSurv)} type="stepAfter" dataKey="y" stroke={RED} strokeWidth={1.6}
            dot={false} activeDot={false} isAnimationActive={false} />
          <Line data={pairs(kmHighTimes, kmHighSurv)} type="stepAfter" dataKey="y" stroke={BLUE} strokeWidth={1.6}
            dot={false} activeDot={false} isAnimationActive={false} />
          <Scatter data={pairs(censorLowTimes, censorLowSurv)} shape={plusShape(RED)} isAnimationActive={false} />
          <Scatter data={pairs(censorHighTimes, censorHighSurv)} shape={plusShape(BLUE)} isAnimationActive={false} />
        </ComposedChart>
      </div>
      <Box x={52} y={450} w={340} h={229} color="#888" />
      <div style={{ position: "absolute", left: 73, top: 598, background: "#fff", padding: "1px 3px", fontFamily: SERIF, fontSize: 16.5, lineHeight: "17px", color: "#222" }}>
        <div>Log-rank</div>
        <div><i>P</i>&lt;0.000 1</div>
      </div>
      <Txt x={13} y={575} size={15} weight={400} anchor="middle" rotate={-90}>生存概率</Txt>
      <Txt x={219} y={700} size={16} weight={400} anchor="middle">时间/d</Txt>

      <div style={{ position: "absolute", left: 0, top: 716 }}>
        <ComposedChart width={400} height={80} margin={{ top: 10, right: 9, bottom: 3, left: 12 }}>
          <CartesianGrid stroke="#f3f3f3" strokeWidth={0.7} verticalValues={minorX} horizontal={false} />
          <CartesianGrid stroke="#e6e6e6" strokeWidth={1} />
          <XAxis type="number" dataKey="x" domain={[-91.25, 1916.25]} ticks={dayTicks} interval={0} height={16}
            axisLine={false} tickLine={{ stroke: "#444" }} tickSize={3} tickMargin={1} tick={tickStyle} />
          <YAxis type="number" dataKey="y" domain={[0.4, 2.6]} ticks={[1, 2]} interval={0} width={40}
            axisLine={false} tickLine={{ stroke: "#444" }} tickSize={3} tickMargin={1}
            tick={(p: any) => (
              <text x={p.x} y={p.y} dy="0.35em" textAnchor="end" fontFamily={CJK} fontSize={8.5} fontWeight={700}
                fill={p.payload.value === 2 ? RED : BLUE}>
                {p.payload.value === 2 ? "低风险组" : "高风险组"}
              </text>
            )} />
          <Scatter data={low} shape={numShape(RED)} isAnimationActive={false} />
          <Scatter data={high} shape={numShape(BLUE)} isAnimationActive={false} />
        </ComposedChart>
      </div>
      <Box x={52} y={726} w={340} h={52} color="#888" />
      <Txt x={10} y={752} size={9} family={SERIF} anchor="middle" rotate={-90}>OS</Txt>
      <Txt x={219} y={799} size={16} weight={400} anchor="middle">时间/d</Txt>
      <Tag x={378} y={807} letter="d" />
    </>
  );
}

// ---------------- panel e ----------------
function DcaFacet({ left, width, showY, train, internal, external, all }: any) {
  const series: [number[][], string, string | undefined, number][] = [
    [dcaNone, PURPLE, "1.5 5.5", 2],
    [all, GREEN, "6 4", 1.8],
    [train, RED, undefined, 1.5],
    [internal, BLUE, undefined, 1.5],
    [external, ORANGE, undefined, 1.5],
  ];
  return (
    <div style={{ position: "absolute", left, top: 437 }}>
      <ComposedChart width={width} height={350} margin={{ top: 0, right: 0, bottom: 0, left: 0 }}>
        <XAxis type="number" dataKey="x" domain={[-0.05, 1.05]} ticks={thresholdTicks} interval={0}
          tickFormatter={(v: number) => v.toFixed(2)} height={20} axisLine={{ stroke: "#111" }}
          tickLine={{ stroke: "#111" }} tickSize={3} tickMargin={1}
          tick={{ fontFamily: SERIF, fontSize: 10, fill: "#4d4d4d" }} />
        <YAxis type="number" dataKey="y" domain={[-0.25, 0.85]} ticks={benefitTicks} interval={0}
          hide={!showY} width={52} axisLine={{ stroke: "#111" }} tickLine={{ stroke: "#111" }}
          tickSize={3} tickMargin={2}
          tickFormatter={(v: number) => (v < 0 ? "\u2212" + Math.abs(v).toFixed(2) : v.toFixed(2))}
          tick={{ fontFamily: SERIF, fontSize: 10, fill: "#4d4d4d" }} />
        {series.map(([d, c, dash, w], i) => (
          <Line key={i} data={xy(d)} dataKey="y" stroke={c} strokeWidth={w} strokeDasharray={dash}
            dot={false} activeDot={false} isAnimationActive={false} />
        ))}
      </ComposedChart>
    </div>
  );
}

function PanelE() {
  const strips: [number, number, string][] = [[472, 107, "1年"], [587, 106, "3年"], [701, 106, "5年"]];
  return (
    <>
      <DcaFacet left={420} width={159} showY train={dca1Train} internal={dca1Internal} external={dca1External} all={dca1All} />
      <DcaFacet left={587} width={106} train={dca3Train} internal={dca3Internal} external={dca3External} all={dca3All} />
      <DcaFacet left={701} width={106} train={dca5Train} internal={dca5Internal} external={dca5External} all={dca5All} />
      {strips.map(([x, w, t]) => (
        <div key={t} style={{ position: "absolute", left: x, top: 418, width: w, height: 19, border: "1.3px solid #222", boxSizing: "border-box", display: "flex", alignItems: "center", justifyContent: "center", fontFamily: CJK, fontWeight: 700, fontSize: 11, color: "#111", background: "#fff" }}>
          {t}
        </div>
      ))}
      <div style={{ position: "absolute", left: 481, top: 476, width: 330, height: 56, border: "1.5px solid #222", boxSizing: "border-box", background: "#fff" }} />
      <Swatch x={486} y={496} w={12} color={RED} width={2} />
      <Txt x={506} y={496} size={11} weight={700}>训练组</Txt>
      <Swatch x={568} y={496} w={12} color={BLUE} width={2} />
      <Txt x={587} y={496} size={11} weight={700}>内部验证组</Txt>
      <Swatch x={694} y={496} w={12} color={ORANGE} width={2} />
      <Txt x={714} y={496} size={11} weight={700}>外部验证组</Txt>
      <Swatch x={486} y={517} w={12} color={GREEN} width={2} dash="5 3" />
      <Txt x={506} y={517} size={11} weight={700}>全干预</Txt>
      <Swatch x={568} y={517} w={12} color={PURPLE} width={2} dash="1.5 3.5" />
      <Txt x={587} y={517} size={11} weight={700}>不干预</Txt>
      <Txt x={435} y={610} size={15} weight={500} anchor="middle" rotate={-90}>净获益率</Txt>
      <Txt x={640} y={792} size={14} weight={700} anchor="middle">风险阈值</Txt>
      <Tag x={799} y={806} letter="e" />
    </>
  );
}

// ---------------- panel f ----------------
const F_BLUE = "#1c76b6";
const F_RED = "#ba4135";

// bars drawn a touch wider than the slot so neighbouring bars meet without seams
const WaterBar = (p: any) => {
  const top = p.height < 0 ? p.y + p.height : p.y;
  const h = Math.abs(p.height);
  const cx = p.x + p.width / 2;
  return <rect x={cx - 1.95} y={top} width={3.9} height={h} fill={p.payload.dead ? F_RED : F_BLUE} />;
};

function PanelF() {
  const data = waterfallScores.map((v, i) => ({ i: i + 1, v, dead: waterfallDead[i] }));
  return (
    <>
      <div style={{ position: "absolute", left: 840, top: 405 }}>
        <BarChart width={431} height={410} data={data} margin={{ top: 10, right: 16, bottom: 2, left: 46 }} barCategoryGap={0} barGap={0}>
          <XAxis type="number" dataKey="i" domain={[-4.3, 103.2]} ticks={[0, 25, 50, 75, 100]} interval={0} height={30}
            axisLine={{ stroke: "#333" }} tickLine={{ stroke: "#333" }} tickSize={4} tick={false} />
          <YAxis type="number" domain={[-2, 2]} ticks={[-2, -1, 0, 1, 2]} interval={0} width={1}
            axisLine={{ stroke: "#333" }} tickLine={{ stroke: "#333" }} tickSize={4} tick={false} />
          <Bar dataKey="v" barSize={3.43} isAnimationActive={false} shape={WaterBar} />
        </BarChart>
      </div>
      <Txt x={946} y={490} size={14} weight={700}>实际存活情况</Txt>
      <div style={{ position: "absolute", left: 946, top: 502, width: 15, height: 13.5, background: F_BLUE }} />
      <div style={{ position: "absolute", left: 946, top: 516, width: 15, height: 13.5, background: F_RED }} />
      <Txt x={968} y={508} size={11.5} weight={700}>存活</Txt>
      <Txt x={968} y={525} size={11.5} weight={700}>死亡</Txt>
      <Txt x={860} y={600} size={15.5} weight={400} anchor="middle" rotate={-90}>预测存活情况</Txt>
      <Tag x={1245} y={806} letter="f" />
    </>
  );
}

export default function App() {
  return (
    <div style={{ position: "absolute", left: 0, top: 0, width: 1271, height: 823, background: "#fff", overflow: "hidden", fontFamily: CJK }}>
      <style>{".recharts-surface{overflow:visible}"}</style>
      <PanelA />
      <PanelB />
      <PanelC />
      <PanelD />
      <PanelE />
      <PanelF />
    </div>
  );
}
